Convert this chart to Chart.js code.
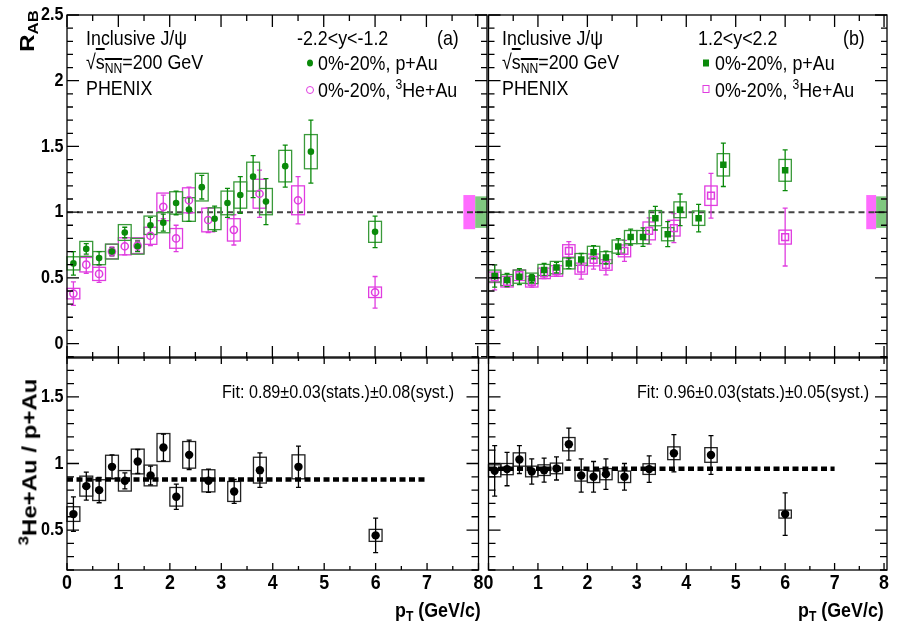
<!DOCTYPE html>
<html>
<head>
<meta charset="utf-8">
<script src="https://cdn.jsdelivr.net/npm/chart.js@4.4.1/dist/chart.umd.min.js"></script>
<style>
    body { margin: 0; background: #fff; }
    #wrap { position: relative; width: 901px; height: 629px; overflow: hidden; font-family: "Liberation Sans", Arial, sans-serif; }
    canvas { position: absolute; left: 0; top: 0; }
    .t { position: absolute; white-space: nowrap; font-size: 21px; line-height: 21px; transform-origin: 0 0; transform: scaleX(.85); color: #000; }
    .t sub { font-size: 0.68em; vertical-align: -0.25em; line-height: 0; }
    .t sup { font-size: 0.68em; vertical-align: 0.55em; line-height: 0; }
    .fit { font-size: 19px; line-height: 19px; }
    .b { font-weight: bold; }
    .rot { position: absolute; white-space: nowrap; font-weight: bold; font-size: 24px; line-height: 24px; transform: translate(-50%, -50%) rotate(-90deg) scaleY(.86); }
    .rot sub { font-size: 0.7em; vertical-align: -0.3em; line-height: 0; }
    .rot sup { font-size: 0.7em; vertical-align: 0.55em; line-height: 0; }
    .ov { text-decoration: overline; }
    .mk { position: absolute; transform: translate(-50%, -50%); box-sizing: border-box; }
</style>
</head>
<body>
<div id="wrap">
    <canvas id="tl" width="901" height="629"></canvas>
    <canvas id="tr" width="901" height="629"></canvas>
    <canvas id="bl" width="901" height="629"></canvas>
    <canvas id="br" width="901" height="629"></canvas>

    <div class="t" style="left:86px; top:27px;">Inclusive J/ψ</div>
    <div class="t" style="left:86px; top:51px;">√<span class="ov">s<sub>NN</sub></span>=200 GeV</div>
    <div class="t" style="left:86px; top:77px;">PHENIX</div>
    <div class="t" style="left:297px; top:27px;">-2.2&lt;y&lt;-1.2</div>
    <div class="t" style="left:437px; top:27px;">(a)</div>
    <div class="mk" style="left:310px; top:63px; width:6px; height:7px; border-radius:50%; background:#0a8a0a;"></div>
    <div class="t" style="left:318px; top:52px;">0%-20%, p+Au</div>
    <div class="mk" style="left:310px; top:90px; width:8px; height:8px; border-radius:50%; border:1.5px solid #e03ce0;"></div>
    <div class="t" style="left:318px; top:79px;">0%-20%, <sup>3</sup>He+Au</div>

    <div class="t" style="left:502px; top:27px;">Inclusive J/ψ</div>
    <div class="t" style="left:502px; top:51px;">√<span class="ov">s<sub>NN</sub></span>=200 GeV</div>
    <div class="t" style="left:502px; top:77px;">PHENIX</div>
    <div class="t" style="left:698px; top:27px;">1.2&lt;y&lt;2.2</div>
    <div class="t" style="left:843px; top:27px;">(b)</div>
    <div class="mk" style="left:706px; top:63px; width:6px; height:7px; background:#0a8a0a;"></div>
    <div class="t" style="left:715px; top:52px;">0%-20%, p+Au</div>
    <div class="mk" style="left:706px; top:89px; width:7px; height:8px; border:1.5px solid #e03ce0;"></div>
    <div class="t" style="left:715px; top:79px;">0%-20%, <sup>3</sup>He+Au</div>

    <div class="t fit" style="left:222px; top:382px;">Fit: 0.89±0.03(stats.)±0.08(syst.)</div>
    <div class="t fit" style="left:637px; top:382px;">Fit: 0.96±0.03(stats.)±0.05(syst.)</div>

    <div class="t b" style="left:395px; top:599px;">p<sub>T</sub> (GeV/c)</div>
    <div class="t b" style="left:798px; top:599px;">p<sub>T</sub> (GeV/c)</div>

    <div class="rot" style="left:27px; top:31px;">R<sub>AB</sub></div>
    <div class="rot" style="left:29px; top:462px;"><sup>3</sup>He+Au / p+Au</div>
</div>

<script>
// p_T bin centres
const ptPAu = [0.125, 0.375, 0.625, 0.875, 1.125, 1.375, 1.625, 1.875, 2.125, 2.375,
               2.625, 2.875, 3.125, 3.375, 3.625, 3.875, 4.25, 4.75, 6.0];
const ptHeAu = [0.125, 0.375, 0.625, 0.875, 1.125, 1.375, 1.625, 1.875, 2.125, 2.375,
                2.75, 3.25, 3.75, 4.5, 6.0];

// (a) backward, -2.2<y<-1.2
const raaPAuBwd  = [0.61, 0.72, 0.65, 0.70, 0.845, 0.74, 0.90, 0.92, 1.07, 1.02, 1.19, 0.95, 1.07, 1.13, 1.27, 1.08, 1.35, 1.46, 0.85];
const statPAuBwd = [0.09, 0.04, 0.05, 0.03, 0.04, 0.04, 0.06, 0.065, 0.09, 0.09, 0.09, 0.095, 0.11, 0.14, 0.16, 0.175, 0.16, 0.24, 0.12];
const sysPAuBwd  = [0.05, 0.057, 0.05, 0.057, 0.06, 0.06, 0.07, 0.077, 0.085, 0.09, 0.105, 0.083, 0.09, 0.10, 0.11, 0.10, 0.12, 0.13, 0.08];

const raaHeAuBwd  = [0.38, 0.60, 0.53, 0.70, 0.74, 0.745, 0.82, 1.04, 0.80, 1.09, 0.94, 0.865, 1.14, 1.09, 0.39];
const statHeAuBwd = [0.09, 0.065, 0.065, 0.035, 0.065, 0.04, 0.075, 0.09, 0.10, 0.10, 0.095, 0.115, 0.18, 0.18, 0.12];
const sysHeAuBwd  = [0.04, 0.055, 0.05, 0.055, 0.065, 0.06, 0.065, 0.105, 0.075, 0.095, 0.09, 0.085, 0.11, 0.11, 0.04];

const ratioBwd     = [0.62, 0.83, 0.80, 0.975, 0.87, 1.015, 0.91, 1.12, 0.75, 1.065, 0.87, 0.79, 0.95, 0.975, 0.46];
const statRatioBwd = [0.13, 0.105, 0.095, 0.09, 0.06, 0.09, 0.07, 0.10, 0.095, 0.11, 0.087, 0.09, 0.13, 0.155, 0.13];
const sysRatioBwd  = [0.055, 0.075, 0.078, 0.087, 0.077, 0.093, 0.078, 0.105, 0.07, 0.10, 0.083, 0.075, 0.097, 0.09, 0.045];

// (b) forward, 1.2<y<2.2
const raaPAuFwd  = [0.514, 0.483, 0.509, 0.496, 0.56, 0.578, 0.61, 0.64, 0.695, 0.654, 0.738, 0.81, 0.81, 0.954, 0.832, 1.018, 0.954, 1.36, 1.318];
const statPAuFwd = [0.085, 0.05, 0.06, 0.03, 0.05, 0.04, 0.04, 0.045, 0.05, 0.05, 0.06, 0.06, 0.07, 0.09, 0.095, 0.12, 0.105, 0.165, 0.155];
const sysPAuFwd  = [0.045, 0.042, 0.05, 0.04, 0.042, 0.047, 0.042, 0.045, 0.045, 0.045, 0.05, 0.05, 0.05, 0.058, 0.05, 0.06, 0.055, 0.085, 0.083];

const raaHeAuFwd  = [0.504, 0.47, 0.52, 0.47, 0.534, 0.552, 0.705, 0.57, 0.636, 0.598, 0.705, 0.857, 0.878, 1.125, 0.81];
const statHeAuFwd = [0.095, 0.04, 0.04, 0.04, 0.04, 0.04, 0.07, 0.08, 0.07, 0.075, 0.08, 0.10, 0.11, 0.17, 0.22];
const sysHeAuFwd  = [0.04, 0.04, 0.04, 0.04, 0.04, 0.04, 0.047, 0.042, 0.045, 0.04, 0.045, 0.068, 0.06, 0.074, 0.053];

const ratioFwd     = [0.945, 0.958, 1.03, 0.94, 0.95, 0.963, 1.145, 0.91, 0.90, 0.92, 0.90, 0.958, 1.077, 1.064, 0.62];
const statRatioFwd = [0.19, 0.125, 0.105, 0.095, 0.09, 0.087, 0.12, 0.125, 0.115, 0.115, 0.10, 0.10, 0.14, 0.145, 0.16];
const sysRatioFwd  = [0.045, 0.042, 0.05, 0.04, 0.04, 0.04, 0.05, 0.042, 0.043, 0.042, 0.043, 0.04, 0.048, 0.055, 0.03];

// global uncertainties and fits
const globalPAu = 0.12;
const globalHeAu = 0.13;
const globalPosBwd = [7.72, 7.95, 8.18];   // magenta from..to, green to
const globalPosFwd = [7.64, 7.84, 8.04];
const fitBwd = 0.88;
const fitFwd = 0.96;
const fitRange = [0, 7];

// tick labels
const ticksRaa = [0, 0.5, 1, 1.5, 2, 2.5];
const ticksRatio = [0.5, 1, 1.5];
const ticksPt = [0, 1, 2, 3, 4, 5, 6, 7, 8];

const GREEN = '#0a8a0a';
const GREEN_BOX = '#3a9a3a';
const MAG = '#e03ce0';
const BOX_HW = 0.125;

function pts(xs, ys) {
    return xs.map((v, i) => ({x: v, y: ys[i]}));
}

function condText(ctx, str, px, py, align) {
    ctx.save();
    ctx.translate(px, py);
    ctx.scale(0.85, 1);
    ctx.textAlign = align;
    ctx.fillText(str, 0, 0);
    ctx.restore();
}

function drawSeries(ctx, x, y, s) {
    ctx.lineWidth = 1.3;
    ctx.strokeStyle = s.box;
    s.x.forEach((v, i) => {
        const x0 = x.getPixelForValue(v - BOX_HW), x1 = x.getPixelForValue(v + BOX_HW);
        const y0 = y.getPixelForValue(s.y[i] + s.sys[i]), y1 = y.getPixelForValue(s.y[i] - s.sys[i]);
        ctx.strokeRect(x0, y0, x1 - x0, y1 - y0);
    });
    ctx.strokeStyle = s.color;
    ctx.beginPath();
    s.x.forEach((v, i) => {
        const px = x.getPixelForValue(v);
        const yt = y.getPixelForValue(s.y[i] + s.stat[i]), yb = y.getPixelForValue(s.y[i] - s.stat[i]);
        ctx.moveTo(px, yt); ctx.lineTo(px, yb);
        ctx.moveTo(px - 2.5, yt); ctx.lineTo(px + 2.5, yt);
        ctx.moveTo(px - 2.5, yb); ctx.lineTo(px + 2.5, yb);
    });
    ctx.stroke();
}

const panelCfg = {};

const panelPlugin = {
    id: 'panel',
    beforeDatasetsDraw(chart) {
        const o = panelCfg[chart.canvas.id];
        const {ctx, chartArea: a, scales: {x, y}} = chart;
        ctx.save();
        if (o.global) {
            const g = o.global;
            const yTop = v => y.getPixelForValue(1 + v), yBot = v => y.getPixelForValue(1 - v);
            ctx.fillStyle = '#ff6cff';
            ctx.fillRect(x.getPixelForValue(g[0]), yTop(globalHeAu), x.getPixelForValue(g[1]) - x.getPixelForValue(g[0]), yBot(globalHeAu) - yTop(globalHeAu));
            ctx.fillStyle = '#80c880';
            ctx.fillRect(x.getPixelForValue(g[1]), yTop(globalPAu), x.getPixelForValue(g[2]) - x.getPixelForValue(g[1]), yBot(globalPAu) - yTop(globalPAu));
        }
        if (o.refLine != null) {
            ctx.strokeStyle = '#444';
            ctx.lineWidth = 2;
            ctx.setLineDash([6, 4]);
            const py = y.getPixelForValue(o.refLine);
            ctx.beginPath(); ctx.moveTo(a.left, py); ctx.lineTo(a.right, py); ctx.stroke();
            ctx.setLineDash([]);
        }
        o.series.forEach(s => drawSeries(ctx, x, y, s));
        if (o.fit != null) {
            ctx.strokeStyle = '#000';
            ctx.lineWidth = 4.5;
            ctx.setLineDash([6, 3.5]);
            const py = y.getPixelForValue(o.fit);
            ctx.beginPath();
            ctx.moveTo(x.getPixelForValue(fitRange[0]), py);
            ctx.lineTo(x.getPixelForValue(fitRange[1]), py);
            ctx.stroke();
            ctx.setLineDash([]);
        }
        ctx.restore();
    },
    afterDraw(chart) {
        const o = panelCfg[chart.canvas.id];
        const {ctx, chartArea: a, scales: {x, y}} = chart;
        ctx.save();
        ctx.strokeStyle = '#000';
        ctx.lineWidth = 1.3;
        ctx.strokeRect(a.left, a.top, a.right - a.left, a.bottom - a.top);
        ctx.beginPath();
        for (let k = 0; k * 0.5 <= x.max + 1e-6; k++) {
            const px = x.getPixelForValue(k * 0.5);
            const L = k % 2 === 0 ? o.xTick[0] : o.xTick[1];
            ctx.moveTo(px, a.bottom); ctx.lineTo(px, a.bottom - L);
            ctx.moveTo(px, a.top); ctx.lineTo(px, a.top + L);
        }
        const n0 = Math.ceil(y.min * 10 - 1e-6), n1 = Math.floor(y.max * 10 + 1e-6);
        for (let k = n0; k <= n1; k++) {
            const py = y.getPixelForValue(k / 10);
            const L = k % 5 === 0 ? o.yTick[0] : o.yTick[1];
            ctx.moveTo(a.left, py); ctx.lineTo(a.left + L, py);
            ctx.moveTo(a.right, py); ctx.lineTo(a.right - L, py);
        }
        ctx.stroke();

        ctx.fillStyle = '#000';
        if (o.yLabels) {
            ctx.font = 'bold 19px "Liberation Sans", Arial, sans-serif';
            ctx.textBaseline = 'middle';
            o.yLabels.forEach(v => condText(ctx, String(v), a.left - 3.5, y.getPixelForValue(v), 'right'));
        }
        if (o.xLabels) {
            ctx.font = 'bold 21px "Liberation Sans", Arial, sans-serif';
            ctx.textBaseline = 'alphabetic';
            o.xLabels.forEach(v => condText(ctx, String(v), x.getPixelForValue(v), a.bottom + 19, 'center'));
        }
        ctx.restore();
    }
};

function makePanel(id, cfg) {
    panelCfg[id] = cfg;
    return new Chart(document.getElementById(id), {
        type: 'scatter',
        data: { datasets: cfg.datasets },
        options: {
            responsive: false,
            animation: false,
            events: [],
            layout: { padding: cfg.pad },
            scales: {
                x: { type: 'linear', min: 0, max: cfg.xMax, display: false },
                y: { type: 'linear', min: cfg.yRange[0], max: cfg.yRange[1], display: false }
            },
            plugins: { legend: { display: false }, tooltip: { enabled: false } }
        },
        plugins: [panelPlugin]
    });
}

const greenDot = { pointStyle: 'circle', pointRadius: 3.3, backgroundColor: GREEN, borderColor: GREEN, borderWidth: 0 };
const magCircle = { pointStyle: 'circle', pointRadius: 3.6, backgroundColor: 'rgba(0,0,0,0)', borderColor: MAG, borderWidth: 1.5 };
const greenSquare = { pointStyle: 'rect', pointRadius: 4.6, backgroundColor: GREEN, borderColor: GREEN, borderWidth: 0 };
const magSquare = { pointStyle: 'rect', pointRadius: 4.8, backgroundColor: 'rgba(0,0,0,0)', borderColor: MAG, borderWidth: 1.5 };
const blackDot = { pointStyle: 'circle', pointRadius: 4.2, backgroundColor: '#000', borderColor: '#000', borderWidth: 0 };

makePanel('tl', {
    pad: { left: 67, top: 15, right: 414, bottom: 271 },
    xMax: 8.18, yRange: [-0.11, 2.5],
    xTick: [12, 6], yTick: [12, 6],
    yLabels: ticksRaa,
    refLine: 1, global: globalPosBwd,
    series: [
        { x: ptHeAu, y: raaHeAuBwd, stat: statHeAuBwd, sys: sysHeAuBwd, color: MAG, box: MAG },
        { x: ptPAu, y: raaPAuBwd, stat: statPAuBwd, sys: sysPAuBwd, color: GREEN, box: GREEN_BOX }
    ],
    datasets: [
        Object.assign({ label: 'p+Au', data: pts(ptPAu, raaPAuBwd) }, greenDot),
        Object.assign({ label: '3He+Au', data: pts(ptHeAu, raaHeAuBwd) }, magCircle)
    ]
});

makePanel('tr', {
    pad: { left: 488.5, top: 15, right: 14, bottom: 271 },
    xMax: 8.06, yRange: [-0.11, 2.5],
    xTick: [12, 6], yTick: [12, 6],
    refLine: 1, global: globalPosFwd,
    series: [
        { x: ptHeAu, y: raaHeAuFwd, stat: statHeAuFwd, sys: sysHeAuFwd, color: MAG, box: MAG },
        { x: ptPAu, y: raaPAuFwd, stat: statPAuFwd, sys: sysPAuFwd, color: GREEN, box: GREEN_BOX }
    ],
    datasets: [
        Object.assign({ label: 'p+Au', data: pts(ptPAu, raaPAuFwd) }, greenSquare),
        Object.assign({ label: '3He+Au', data: pts(ptHeAu, raaHeAuFwd) }, magSquare)
    ]
});

makePanel('bl', {
    pad: { left: 67, top: 357, right: 422.5, bottom: 59 },
    xMax: 8, yRange: [0.2, 1.8],
    xTick: [7, 4], yTick: [12, 7],
    yLabels: ticksRatio, xLabels: ticksPt,
    fit: fitBwd,
    series: [
        { x: ptHeAu, y: ratioBwd, stat: statRatioBwd, sys: sysRatioBwd, color: '#000', box: '#222' }
    ],
    datasets: [
        Object.assign({ label: 'ratio', data: pts(ptHeAu, ratioBwd) }, blackDot)
    ]
});

makePanel('br', {
    pad: { left: 488.5, top: 357, right: 14, bottom: 59 },
    xMax: 8.06, yRange: [0.2, 1.8],
    xTick: [7, 4], yTick: [12, 7],
    xLabels: ticksPt,
    fit: fitFwd,
    series: [
        { x: ptHeAu, y: ratioFwd, stat: statRatioFwd, sys: sysRatioFwd, color: '#000', box: '#222' }
    ],
    datasets: [
        Object.assign({ label: 'ratio', data: pts(ptHeAu, ratioFwd) }, blackDot)
    ]
});
</script>
</body>
</html>
